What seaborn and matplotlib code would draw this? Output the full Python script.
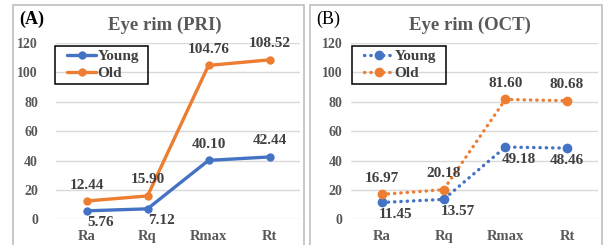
import numpy as np
import pandas as pd
import matplotlib
matplotlib.use("Agg")
import matplotlib.pyplot as plt
import seaborn as sns
from matplotlib.patches import Rectangle

# data
params = ["Ra", "Rq", "Rmax", "Rt"]
pri_young = [5.76, 7.12, 40.10, 42.44]
pri_old = [12.44, 15.90, 104.76, 108.52]
oct_young = [11.45, 13.57, 49.18, 48.46]
oct_old = [16.97, 20.18, 81.60, 80.68]
# where each data label sits relative to its point
pri_young_pos = ["below right", "below right", "above", "above"]
pri_old_pos = ["above", "above", "above", "above"]
oct_young_pos = ["below right", "below right", "below right", "below"]
oct_old_pos = ["above", "above", "above", "above"]
yticks = [0, 20, 40, 60, 80, 100, 120]

BLUE = "#4472C4"
ORANGE = "#ED7D31"
TXT = "#404040"
TICK = "#595959"
LABEL_OFFSETS = {"above": (0, 16), "below": (0, -12), "below right": (14, -12)}

sns.set_style("white")
plt.rcParams["font.family"] = ["Liberation Serif", "DejaVu Serif"]
plt.rcParams["font.weight"] = "bold"

W, H = 604, 245
fig = plt.figure(figsize=(W / 100, H / 100), dpi=100)


def px_axes(x0, x1, ytop, ybot):
    return fig.add_axes([x0 / W, (H - ybot) / H, (x1 - x0) / W, (ybot - ytop) / H])


def px_rect(x0, y0, x1, y1, **kw):
    return Rectangle((x0 / W, 1 - y1 / H), (x1 - x0) / W, (y1 - y0) / H,
                     transform=fig.transFigure, fill=False, **kw)


def make_df(young, old):
    return pd.DataFrame({
        "param": params * 2,
        "value": young + old,
        "group": ["Young"] * 4 + ["Old"] * 4,
    })


def draw_panel(ax, young, old, ypos, opos, title, tag, dotted, ypad, legend_px, title_x):
    df = make_df(young, old)
    if dotted:
        kw = dict(linestyle=(0, (0.1, 1.8)), dash_capstyle="round", linewidth=2.4,
                  marker="o", markersize=7, markeredgewidth=0)
    else:
        kw = dict(linewidth=2.4, marker="o", markersize=6, markeredgewidth=0)
    sns.lineplot(data=df, x="param", y="value", hue="group", palette=[BLUE, ORANGE],
                 sort=False, ax=ax, legend=True, **kw)
    for ln in ax.lines:
        ln.set_clip_on(False)

    ax.set_xlim(-0.5, 3.5)
    ax.set_ylim(0, 120)
    ax.set_yticks(yticks)
    ax.set_yticklabels([str(t) for t in yticks])
    ax.grid(axis="y", color="#D9D9D9", linewidth=1)
    ax.grid(axis="x", visible=False)
    for s in ax.spines.values():
        s.set_visible(False)
    ax.tick_params(axis="y", length=0, pad=ypad, labelsize=10, labelcolor=TICK)
    ax.tick_params(axis="x", length=0, pad=7.5, labelsize=10.5, labelcolor=TICK)
    ax.set_xlabel("")
    ax.set_ylabel("")

    for vals, pos in ((young, ypos), (old, opos)):
        for i, (v, p) in enumerate(zip(vals, pos)):
            ax.annotate(f"{v:.2f}", (i, v), xytext=LABEL_OFFSETS[p], textcoords="offset pixels",
                        ha="center", va="center", fontsize=11, color=TXT,
                        fontweight="bold", annotation_clip=False)

    # legend: entries without frame, box drawn separately
    handles, labels = ax.get_legend_handles_labels()
    lx0, ly0, lx1, ly1 = legend_px
    leg = ax.legend(handles, labels, loc="center left",
                    bbox_to_anchor=((lx0 + 12) / W, 1 - (ly0 + ly1) / 2 / H),
                    bbox_transform=fig.transFigure, frameon=False,
                    fontsize=11, borderpad=0, handlelength=1.9, handletextpad=0.1,
                    labelspacing=0.22, borderaxespad=0)
    for t in leg.get_texts():
        t.set_color(TXT)
        t.set_fontweight("bold")
    fig.patches.append(px_rect(lx0, ly0, lx1, ly1, edgecolor="black", linewidth=1.1))

    fig.text(title_x / W, 1 - 25 / H, title, ha="center", va="center",
             fontsize=13.5, color=TICK, fontweight="bold")
    fig.text(tag[1] / W, 1 - 19 / H, tag[0], ha="left", va="center",
             fontsize=13, color="black", fontweight=tag[2])


# panel frames
fig.patches.append(px_rect(13, 5, 304, 260, edgecolor="#BFBFBF", linewidth=1.2))
fig.patches.append(px_rect(310, 5, 602, 260, edgecolor="#BFBFBF", linewidth=1.2))

ax1 = px_axes(56, 300, 43, 219.3)
ax2 = px_axes(351, 598, 43, 219.3)

draw_panel(ax1, pri_young, pri_old, pri_young_pos, pri_old_pos, "Eye rim (PRI)",
           ("(A)", 19, "bold"), False, 13, (55, 46, 148, 84), 165)
draw_panel(ax2, oct_young, oct_old, oct_young_pos, oct_old_pos, "Eye rim (OCT)",
           ("(B)", 316, "normal"), True, 6, (352, 46, 446, 84), 470)

fig.savefig("out.png", dpi=100)
